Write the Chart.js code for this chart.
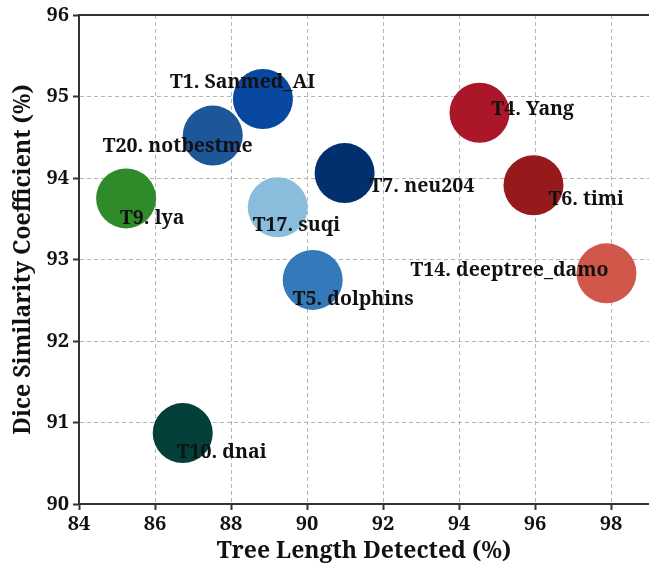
<!DOCTYPE html>
<html>
<head>
<meta charset="utf-8">
<script src="https://cdn.jsdelivr.net/npm/chart.js@4.4.0/dist/chart.umd.min.js"></script>
<style>
  html, body { margin: 0; padding: 0; background: #fff; }
  #wrap { width: 649px; height: 575px; }
</style>
</head>
<body>
<div id="wrap"><canvas id="chart" width="649" height="575"></canvas></div>
<script>
// Dados
const teams = ['T1. Sanmed_AI', 'T20. notbestme', 'T9. lya', 'T17. suqi', 'T5. dolphins',
               'T7. neu204', 'T4. Yang', 'T6. timi', 'T14. deeptree_damo', 'T10. dnai'];
const treeLength = [88.84, 87.52, 85.24, 89.23, 90.15, 90.99, 94.54, 95.96, 97.88, 86.73];
const diceScore = [94.97, 94.52, 93.75, 93.64, 92.75, 94.06, 94.80, 93.91, 92.83, 90.87];
const xTicks = [84, 86, 88, 90, 92, 94, 96, 98];
const yTicks = [90, 91, 92, 93, 94, 95, 96];

// Cores e deslocamentos dos rótulos (px, borda esquerda / centro vertical)
const colors = ['#0848a0', '#1d5799', '#2f8a2a', '#89bddb', '#3479b9',
                '#022f6d', '#ab1629', '#961a1b', '#d0574a', '#03403a'];
const labelOffsets = [[-93, -17], [-110, 11], [-6, 20], [-25, 18], [-20, 20],
                      [25, 13], [12, -3], [15, 14], [-196, -3], [-6, 19]];

const serif = "'Noto Serif', 'DejaVu Serif', serif";

const points = treeLength.map((x, i) => ({ x: x, y: diceScore[i] }));

// Desenha os rótulos e a borda superior
const labelPlugin = {
    id: 'labels',
    afterDraw(chart) {
        const ctx = chart.ctx;
        const xs = chart.scales.x, ys = chart.scales.y;
        ctx.save();
        ctx.fillStyle = '#111';
        ctx.font = 'bold 19.5px ' + serif;
        ctx.textAlign = 'left';
        ctx.textBaseline = 'middle';
        points.forEach((p, i) => {
            const px = xs.getPixelForValue(p.x);
            const py = ys.getPixelForValue(p.y);
            ctx.fillText(teams[i], px + labelOffsets[i][0], py + labelOffsets[i][1]);
        });
        // borda superior
        const a = chart.chartArea;
        ctx.strokeStyle = '#333';
        ctx.lineWidth = 2;
        ctx.beginPath();
        ctx.moveTo(a.left, a.top);
        ctx.lineTo(a.right, a.top);
        ctx.stroke();
        ctx.restore();
    }
};

const gridOpts = {
    color: '#b3b3b3',
    lineWidth: 1,
    tickLength: 6,
    tickColor: '#333',
    tickWidth: 2,
    tickBorderDash: []
};
const borderOpts = { display: true, color: '#333', width: 2, dash: [4, 3] };

const ctx = document.getElementById('chart').getContext('2d');
new Chart(ctx, {
    type: 'scatter',
    data: {
        datasets: [{
            data: points,
            backgroundColor: colors,
            borderWidth: 0,
            pointRadius: 30,
            pointHoverRadius: 30,
            clip: false
        }]
    },
    options: {
        responsive: false,
        animation: false,
        layout: { autoPadding: false, padding: { top: 15, right: 0, left: 0, bottom: 0 } },
        plugins: { legend: { display: false }, tooltip: { enabled: false } },
        scales: {
            x: {
                type: 'linear',
                min: 84,
                max: 99,
                z: 1,
                afterBuildTicks: (axis) => { axis.ticks = xTicks.map(v => ({ value: v })); },
                afterFit: (axis) => { axis.height = 71; axis.paddingLeft = 0; axis.paddingRight = 0; },
                ticks: {
                    color: '#111',
                    font: { family: serif, size: 20, weight: 'bold' },
                    padding: 2
                },
                grid: gridOpts,
                border: borderOpts,
                title: {
                    display: true,
                    text: 'Tree Length Detected (%)',
                    color: '#111',
                    font: { family: serif, size: 23, weight: 'bold' },
                    padding: { top: 2, bottom: 10 }
                }
            },
            y: {
                type: 'linear',
                min: 90,
                max: 96,
                z: 1,
                afterBuildTicks: (axis) => { axis.ticks = yTicks.map(v => ({ value: v })); },
                afterFit: (axis) => { axis.width = 79; axis.paddingTop = 0; axis.paddingBottom = 0; },
                ticks: {
                    color: '#111',
                    font: { family: serif, size: 20, weight: 'bold' },
                    padding: 4
                },
                grid: gridOpts,
                border: borderOpts,
                title: {
                    display: true,
                    text: 'Dice Similarity Coefficient (%)',
                    color: '#111',
                    font: { family: serif, size: 23, weight: 'bold' },
                    padding: { top: 10, bottom: 4 }
                }
            }
        }
    },
    plugins: [labelPlugin]
});
</script>
</body>
</html>
